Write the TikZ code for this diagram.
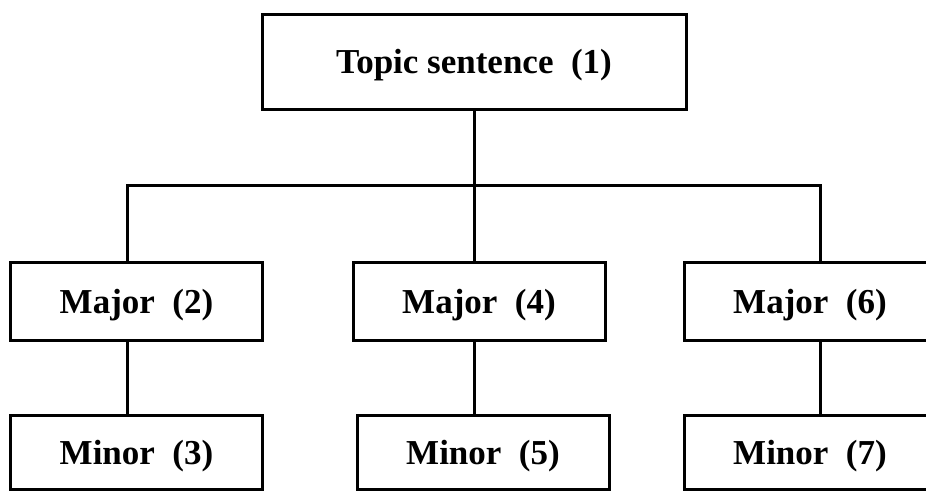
\documentclass[tikz,border=0pt]{standalone}
\usepackage{fontspec}
\setmainfont{Liberation Serif}
\usepackage{tikz}
\usetikzlibrary{positioning}

\tikzset{
  box/.style={draw,line width=3pt,minimum width=252pt,minimum height=78pt,inner sep=0pt,text depth=0pt,font=\bfseries\fontsize{35}{42}\selectfont},
  minorbox/.style={box,minimum height=74pt},
  link/.style={line width=3pt}
}

\begin{document}
\begin{tikzpicture}[x=1pt,y=-1pt]
\useasboundingbox (0,0) rectangle (926,491);
\clip (0,0) rectangle (926,491);
\node [box,minimum width=424pt,minimum height=95pt] (topic) at (474,61.5) {Topic sentence\enspace(1)};
\node [box] (maj2) at (136.5,301) {Major\enspace(2)};
\node [box] (maj4) at (479,301) {Major\enspace(4)};
\node [box] (maj6) at (810,301) {Major\enspace(6)};
\node [minorbox] (min3) at (136.5,452) {Minor\enspace(3)};
\node [minorbox] (min5) at (483,452) {Minor\enspace(5)};
\node [minorbox] (min7) at (810,452) {Minor\enspace(7)};
\coordinate (j2) at (127,185);
\coordinate (j4) at (474,185);
\coordinate (j6) at (820,185);
\draw [link] (topic.south -| j4) -- (j4);
\draw [link] (j2 |- maj2.north) -- (j2) -- (j6) -- (j6 |- maj6.north);
\draw [link] (j4) -- (j4 |- maj4.north);
\draw [link] (j2 |- maj2.south) -- (j2 |- min3.north);
\draw [link] (j4 |- maj4.south) -- (j4 |- min5.north);
\draw [link] (j6 |- maj6.south) -- (j6 |- min7.north);
\end{tikzpicture}
\end{document}
